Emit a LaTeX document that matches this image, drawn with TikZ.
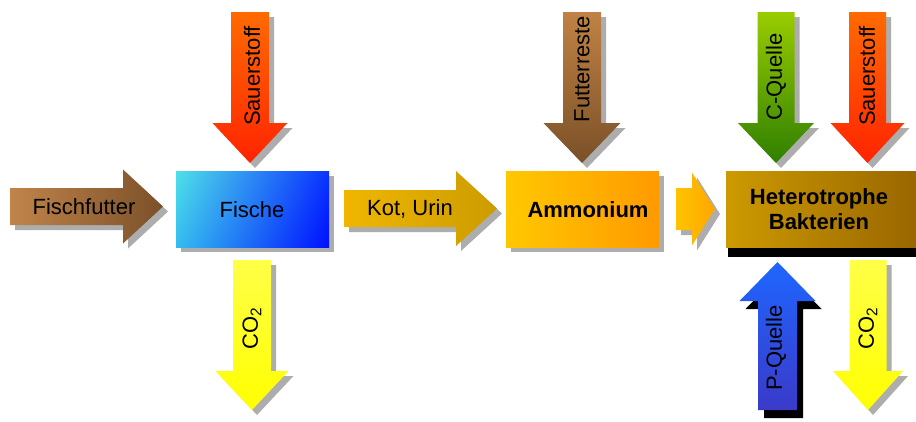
\documentclass[tikz,border=0pt]{standalone}
\usepackage{fontspec}
\setmainfont{Liberation Sans}
\usetikzlibrary{shadings}
\newcommand\blkdown[7]{% cx, body half, head half, ytop, yhead, ytip, shading
  \fill[shd] ({#1-#2+5},{#4+5}) -- ({#1+#2+5},{#4+5}) -- ({#1+#2+5},{#5+5}) -- ({#1+#3+5},{#5+5}) -- ({#1+5},{#6+5}) -- ({#1-#3+5},{#5+5}) -- ({#1-#2+5},{#5+5}) -- cycle;
  \shade[#7] ({#1-#2},#4) -- ({#1+#2},#4) -- ({#1+#2},#5) -- ({#1+#3},#5) -- (#1,#6) -- ({#1-#3},#5) -- ({#1-#2},#5) -- cycle;}
\newcommand\blkright[7]{% cy, body half, head half, xleft, xhead, xtip, shading
  \fill[shd] ({#4+5},{#1-#2+5}) -- ({#5+5},{#1-#2+5}) -- ({#5+5},{#1-#3+5}) -- ({#6+5},{#1+5}) -- ({#5+5},{#1+#3+5}) -- ({#5+5},{#1+#2+5}) -- ({#4+5},{#1+#2+5}) -- cycle;
  \shade[#7] (#4,{#1-#2}) -- (#5,{#1-#2}) -- (#5,{#1-#3}) -- (#6,#1) -- (#5,{#1+#3}) -- (#5,{#1+#2}) -- (#4,{#1+#2}) -- cycle;}
\tikzset{
  shd/.style={fill=black!32},
  lbl/.style={font=\fontsize{22}{25}\selectfont, inner sep=0pt, text=black},
  blbl/.style={font=\bfseries\fontsize{22}{25}\selectfont, inner sep=0pt, text=black, align=center},
  vlbl/.style={lbl, rotate=90}
}
\definecolor{ffL}{HTML}{C0844A}\definecolor{ffR}{HTML}{7B5029}
\definecolor{fiUL}{HTML}{50E0E8}\definecolor{fiUR}{HTML}{0A34FF}
\definecolor{fiLL}{HTML}{34BCF0}\definecolor{fiLR}{HTML}{0010FF}
\definecolor{saT}{HTML}{FF6A00}\definecolor{saB}{HTML}{FF2400}
\definecolor{coT}{HTML}{FFFF48}\definecolor{coB}{HTML}{FFFF00}
\definecolor{kuL}{HTML}{F0B600}\definecolor{kuR}{HTML}{CC9C00}
\definecolor{amL}{HTML}{FFC800}\definecolor{amR}{HTML}{FF9A00}
\definecolor{smL}{HTML}{FFC400}\definecolor{smR}{HTML}{FFA600}
\definecolor{htL}{HTML}{CC9A00}\definecolor{htR}{HTML}{996600}
\definecolor{cqT}{HTML}{99CC00}\definecolor{cqB}{HTML}{2F7F00}
\definecolor{frT}{HTML}{C08244}\definecolor{frB}{HTML}{7A5028}
\definecolor{pqT}{HTML}{1E66FF}\definecolor{pqB}{HTML}{3A3AC8}
\begin{document}
\begin{tikzpicture}[x=1pt,y=-1pt]
\useasboundingbox (0,0) rectangle (916,421);
\fill[white] (0,0) rectangle (916,421);
% Fischfutter
\blkright{206.5}{18.5}{37}{10}{123}{163}{left color=ffL,right color=ffR}
% Fische box
\fill[shd] (181,176) rectangle (334,252);
\shade[upper left=fiUL,upper right=fiUR,lower left=fiLL,lower right=fiLR] (176,171) rectangle (329,247);
% Sauerstoff 1
\blkdown{250}{19}{37.5}{12}{123}{163}{top color=saT,bottom color=saB}
% CO2 1
\blkdown{252}{19}{36.5}{260}{371}{410}{top color=coT,bottom color=coB}
% Kot, Urin
\blkright{208.5}{18.5}{37.5}{344}{456}{497}{left color=kuL,right color=kuR}
% Ammonium box
\fill[shd] (511,176) rectangle (664,252);
\shade[left color=amL,right color=amR] (506,171) rectangle (659,247);
% small arrow
\blkright{209}{21}{36.5}{676}{692}{715}{left color=smL,right color=smR}
% Futterreste
\blkdown{582}{19}{38.5}{12}{123}{163}{top color=frT,bottom color=frB}
% Heterotrophe box
\fill[black] (728,178) rectangle (920,257);
\shade[left color=htL,right color=htR] (726,171) rectangle (918,247);
% C-Quelle
\blkdown{776}{18.5}{38}{12}{123}{163}{top color=cqT,bottom color=cqB}
% Sauerstoff 2
\blkdown{867.5}{18.5}{37}{12}{123}{163}{top color=saT,bottom color=saB}
% P-Quelle (up)
\fill[black] ({777.5-19.5+6},418) -- ({777.5+19.5+6},418) -- ({777.5+19.5+6},309) -- ({777.5+38+6},309) -- ({777.5+6},270) -- ({777.5-38+6},309) -- ({777.5-19.5+6},309) -- cycle;
\shade[top color=pqT,bottom color=pqB] ({777.5-19.5},410) -- ({777.5+19.5},410) -- ({777.5+19.5},301) -- ({777.5+38},301) -- (777.5,262) -- ({777.5-38},301) -- ({777.5-19.5},301) -- cycle;
% CO2 2
\blkdown{868}{18.5}{35}{260}{371}{410}{top color=coT,bottom color=coB}
% labels
\node[lbl] (fischfutter) at (84,207) {Fischfutter};
\node[lbl] (fische) at (252,210) {Fische};
\node[vlbl] (sauer1) at (252,76) {Sauerstoff};
\node[vlbl] (co1) at (252,328) {CO\textsubscript{2}};
\node[lbl] (kot) at (410,209) {Kot, Urin};
\node[blbl] (ammonium) at (588,210) {Ammonium};
\node[vlbl] (futterreste) at (582,69) {Futterreste};
\node[blbl] (hetero) at (819,209) {Heterotrophe\\Bakterien};
\node[vlbl] (cquelle) at (776,77) {C-Quelle};
\node[vlbl] (sauer2) at (867,76) {Sauerstoff};
\node[vlbl] (pquelle) at (776,348) {P-Quelle};
\node[vlbl] (co2) at (868,328) {CO\textsubscript{2}};
\end{tikzpicture}
\end{document}
